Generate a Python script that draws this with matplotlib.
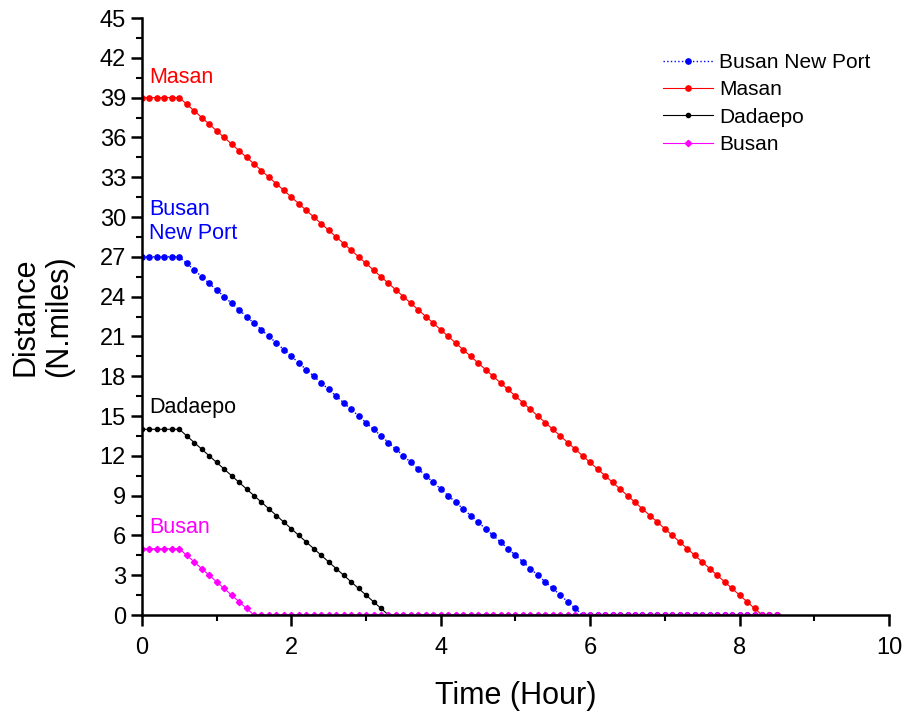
import matplotlib
matplotlib.use("Agg")

import matplotlib.pyplot as plt
from matplotlib.ticker import MultipleLocator

plt.rcParams["font.family"] = ["Liberation Sans", "DejaVu Sans"]

# sampling times (hour), one point every 0.1 h
time = [round(0.1 * i, 1) for i in range(86)]

# distance to go (N.miles)
masan = [39] * 6 + [
    38.5, 38, 37.5, 37, 36.5, 36, 35.5, 35, 34.5, 34, 33.5, 33, 32.5, 32,
    31.5, 31, 30.5, 30, 29.5, 29, 28.5, 28, 27.5, 27, 26.5, 26, 25.5, 25,
    24.5, 24, 23.5, 23, 22.5, 22, 21.5, 21, 20.5, 20, 19.5, 19, 18.5, 18,
    17.5, 17, 16.5, 16, 15.5, 15, 14.5, 14, 13.5, 13, 12.5, 12, 11.5, 11,
    10.5, 10, 9.5, 9, 8.5, 8, 7.5, 7, 6.5, 6, 5.5, 5, 4.5, 4, 3.5, 3,
    2.5, 2, 1.5, 1, 0.5, 0] + [0] * 2
new_port = [27] * 6 + [
    26.5, 26, 25.5, 25, 24.5, 24, 23.5, 23, 22.5, 22, 21.5, 21, 20.5, 20,
    19.5, 19, 18.5, 18, 17.5, 17, 16.5, 16, 15.5, 15, 14.5, 14, 13.5, 13,
    12.5, 12, 11.5, 11, 10.5, 10, 9.5, 9, 8.5, 8, 7.5, 7, 6.5, 6, 5.5, 5,
    4.5, 4, 3.5, 3, 2.5, 2, 1.5, 1, 0.5, 0] + [0] * 26
dadaepo = [14] * 6 + [
    13.5, 13, 12.5, 12, 11.5, 11, 10.5, 10, 9.5, 9, 8.5, 8, 7.5, 7,
    6.5, 6, 5.5, 5, 4.5, 4, 3.5, 3, 2.5, 2, 1.5, 1, 0.5, 0] + [0] * 52
busan = [5] * 6 + [4.5, 4, 3.5, 3, 2.5, 2, 1.5, 1, 0.5, 0] + [0] * 70

fig = plt.figure(figsize=(9.06, 7.12), dpi=100)
ax = fig.add_axes([0.1567, 0.1362, 0.8245, 0.8385])

ax.plot(time, new_port, color="blue", ls=":", lw=1.0, marker="o", ms=3.8,
        label="Busan New Port")
ax.plot(time, masan, color="red", lw=0.8, marker="o", ms=3.8, label="Masan")
ax.plot(time, dadaepo, color="black", lw=0.8, marker="o", ms=3.0, label="Dadaepo")
ax.plot(time, busan, color="magenta", lw=0.8, marker="D", ms=3.2, label="Busan")

ax.text(0.1, 40.5, "Masan", color="red", fontsize=15.5, va="center")
ax.text(0.1, 30.55, "Busan", color="blue", fontsize=15.5, va="center")
ax.text(0.1, 28.75, "New Port", color="blue", fontsize=15.5, va="center")
ax.text(0.1, 15.68, "Dadaepo", color="black", fontsize=15.5, va="center")
ax.text(0.1, 6.63, "Busan", color="magenta", fontsize=15.5, va="center")

ax.set_xlim(0, 10)
ax.set_ylim(0, 45)
ax.xaxis.set_major_locator(MultipleLocator(2))
ax.xaxis.set_minor_locator(MultipleLocator(1))
ax.yaxis.set_major_locator(MultipleLocator(3))
ax.yaxis.set_minor_locator(MultipleLocator(1.5))
ax.tick_params(which="major", direction="out", length=8, width=1.8, labelsize=17)
ax.tick_params(which="minor", direction="out", length=4, width=1.5)
ax.tick_params(axis="x", pad=8)

for side in ["top", "right"]:
    ax.spines[side].set_visible(False)
for side in ["left", "bottom"]:
    ax.spines[side].set_linewidth(1.8)

ax.set_xlabel("Time (Hour)", fontsize=22, labelpad=16)
ax.set_ylabel("Distance\n(N.miles)", fontsize=22, labelpad=18)

ax.legend(loc="upper right", bbox_to_anchor=(1.0, 0.973), frameon=False,
          fontsize=15, handlelength=2.4, handletextpad=0.3, labelspacing=0.4)

fig.savefig("out.png", dpi=100)
plt.close(fig)
